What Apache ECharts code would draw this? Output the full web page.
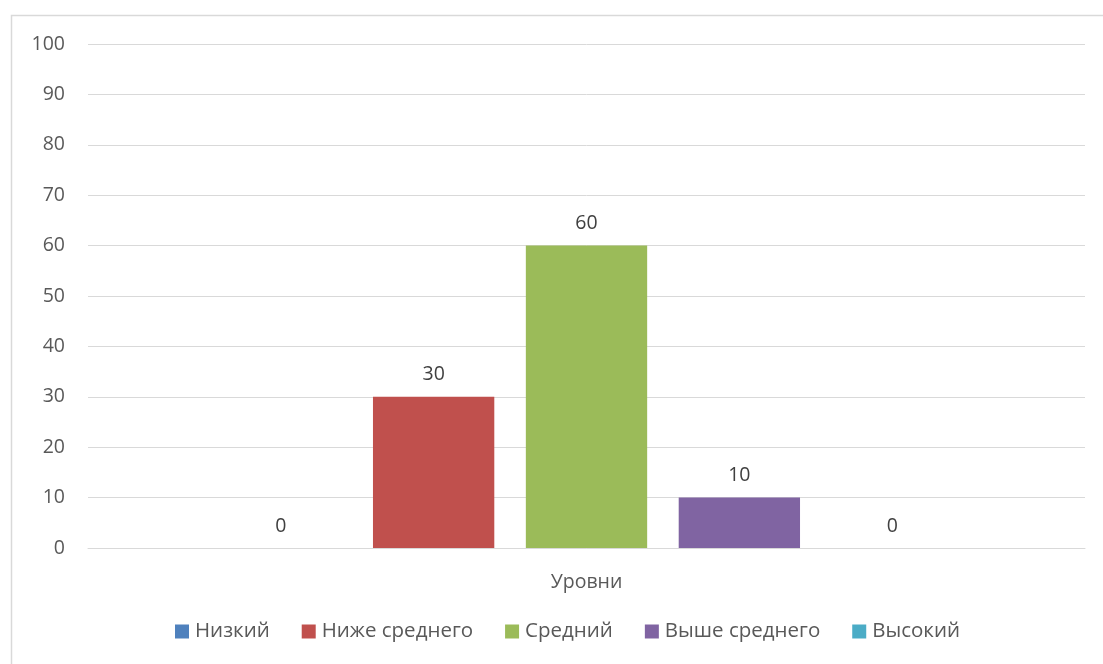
<!DOCTYPE html>
<html><head><meta charset="utf-8">
<script src="https://cdn.jsdelivr.net/npm/echarts@6/dist/echarts.min.js"></script>
<style>html,body{margin:0;padding:0;background:#fff}#c{width:1103px;height:664px}</style>
</head><body><div id="c"></div>
<script>
const categories = ['Уровни'];
const seriesNames = ['Низкий', 'Ниже среднего', 'Средний', 'Выше среднего', 'Высокий'];
const seriesValues = [[0], [30], [60], [10], [0]];
const colors = ['#4F81BD', '#C0504D', '#9BBB59', '#8064A2', '#4BACC6'];
const yTicks = {min: 0, max: 100, interval: 10};

const font = '"Open Sans", "DejaVu Sans", sans-serif';
const chart = echarts.init(document.getElementById('c'));
chart.setOption({
  animation: false,
  color: colors,
  graphic: [{type: 'rect', shape: {x: 11.5, y: 15.5, width: 1100, height: 700}, style: {fill: 'none', stroke: '#d9d9d9', lineWidth: 1.5}, z: -1}],
  grid: {left: 88, right: 18, top: 44, bottom: 116},
  legend: {
    bottom: 17, left: 170, itemWidth: 14, itemHeight: 14, itemGap: 32,
    icon: 'rect',
    textStyle: {color: '#595959', fontSize: 20.5, fontFamily: font, padding: [0, 0, 0, 1]},
    data: seriesNames
  },
  xAxis: {
    type: 'category', data: categories,
    axisLine: {show: true, lineStyle: {color: '#d9d9d9', width: 1}},
    axisTick: {show: false},
    axisLabel: {color: '#595959', fontSize: 19.5, fontFamily: font, margin: 24}
  },
  yAxis: {
    type: 'value', min: yTicks.min, max: yTicks.max, interval: yTicks.interval,
    axisLine: {show: false}, axisTick: {show: false},
    axisLabel: {color: '#595959', fontSize: 19.5, fontFamily: font, margin: 23},
    splitLine: {lineStyle: {color: '#d9d9d9', width: 1}}
  },
  series: seriesNames.map((n, i) => ({
    name: n, type: 'bar', data: seriesValues[i],
    barGap: '26%', barCategoryGap: '26.5%',
    label: {show: true, position: 'top', distance: 12, color: '#404040', fontSize: 19.5, fontFamily: font}
  }))
});
</script></body></html>
